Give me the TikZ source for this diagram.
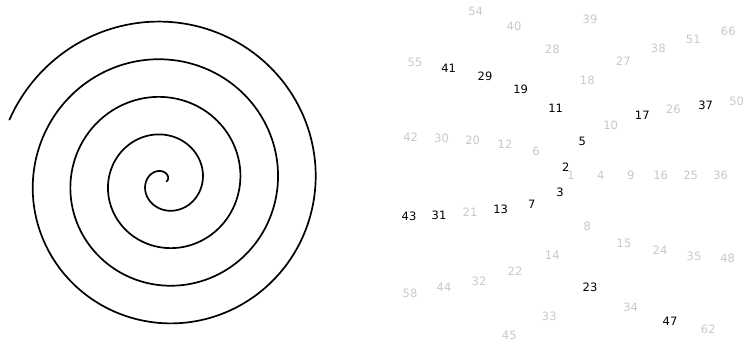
\documentclass[tikz,border=0pt]{standalone}
\usepackage{fontspec}
\setmainfont{DejaVu Sans}
\definecolor{numgray}{RGB}{200,200,200}
\begin{document}
\begin{tikzpicture}[x=1pt,y=-1pt,
  num/.style={font=\fontsize{11.5}{12}\selectfont, inner sep=0pt, text=numgray},
  prime/.style={num, text=black},
  spiral/.style={line width=1.7pt, line cap=round, line join=round}]
\useasboundingbox (0,0) rectangle (744,345);
% Archimedean spiral
\coordinate (c) at (164.8,181.9);
\draw[spiral] plot[domain=0.3:27.9, samples=500, smooth, variable=\t]
  ({164.8+6*\t*cos(\t r)}, {181.9-6*\t*sin(\t r)});
% number spiral
\foreach \n/\x/\y/\s in {
  54/475.7/11.7/num, 40/514/26.7/num, 28/552.3/49.3/num, 55/415/62.3/num,
  41/448.7/68.7/prime, 29/485/76.7/prime, 19/520.7/89.3/prime, 11/555.7/108.3/prime,
  39/590/19.3/num, 66/728.3/31.7/num, 51/693.3/39/num, 38/658.3/48.3/num,
  27/623.3/61.7/num, 18/587.3/80/num, 26/673.3/109/num, 37/705.7/105/prime,
  50/736.7/101.7/num, 17/642.3/115.5/prime,
  42/410.7/137.3/num, 30/441.7/138.3/num, 20/472.7/140.7/num, 12/505/144/num,
  6/536/151.7/num, 2/565.7/167.3/prime, 3/560/192.7/prime, 7/531.7/204/prime,
  13/500.7/209.3/prime, 21/470/212.7/num, 31/439/215/prime, 43/409/216/prime,
  10/610.7/125/num, 5/582.3/141.7/prime, 1/570.7/175.7/num, 4/600.7/175.7/num,
  9/630.7/175.7/num, 16/660.7/175.7/num, 25/690.7/175.7/num, 36/720.7/175.7/num,
  8/587.3/226.5/num,
  14/552.3/255.7/num, 22/515/271.7/num, 32/479/281/num, 44/444/287.7/num,
  58/410/293.3/num, 33/549.3/316.7/num, 45/509.3/335.7/num,
  15/624/243.3/num, 24/660/250.7/num, 35/694/256/num, 48/727.7/258.3/num,
  23/590/287.3/prime, 34/630.7/307.3/num, 47/670/321/prime, 62/708.3/329.3/num}
  \node[\s] (n\n) at (\x,\y) {\n};
\end{tikzpicture}
\end{document}
